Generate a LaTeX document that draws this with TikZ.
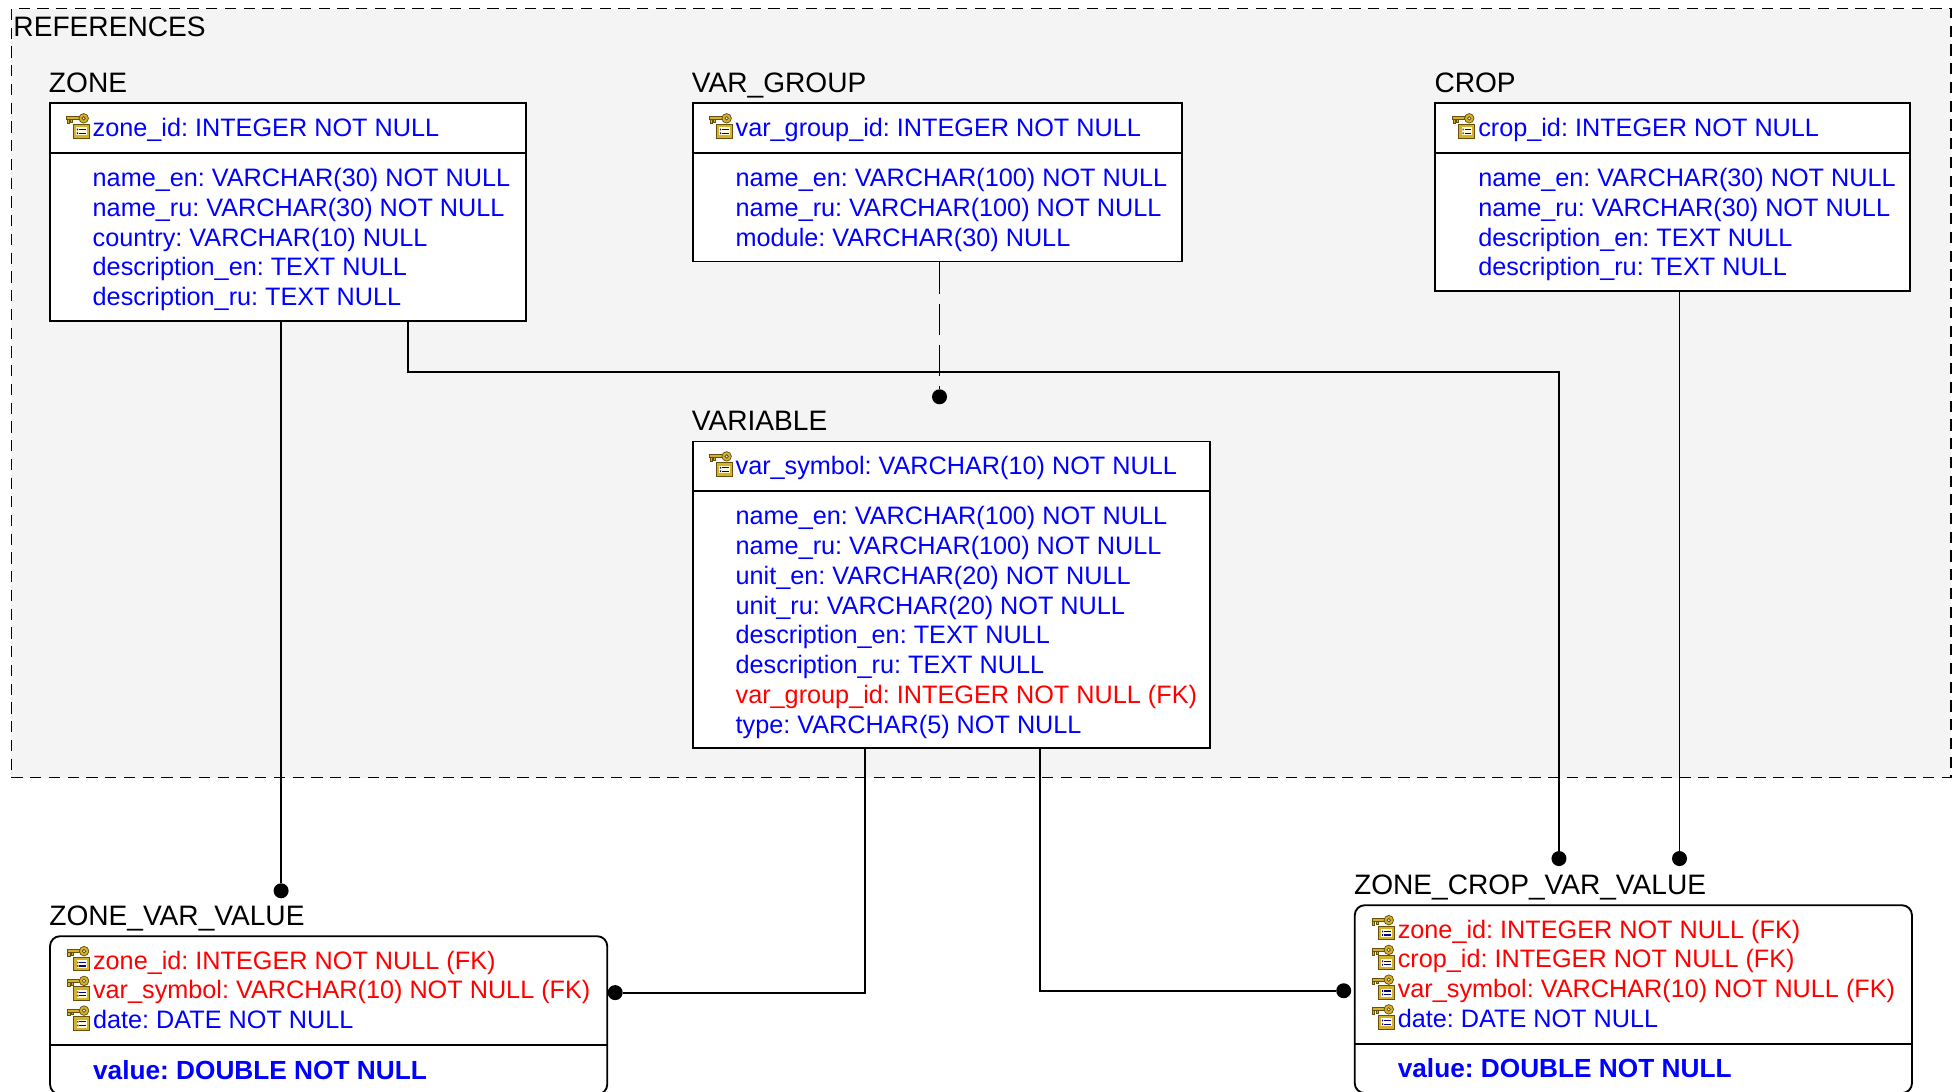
\documentclass[tikz,border=0pt]{standalone}
\usepackage{fontspec}
\setmainfont{Liberation Sans}
\frenchspacing

\definecolor{attrblue}{RGB}{0,0,255}
\definecolor{fkred}{RGB}{255,0,0}
\definecolor{areagray}{RGB}{244,244,244}
\definecolor{keygold}{RGB}{214,178,44}
\definecolor{keyedge}{RGB}{100,80,12}

\newcommand\fk[1]{\textcolor{fkred}{#1}}

% key + table icon of a primary key row
\tikzset{pkey/.pic={
  \draw[keyedge, fill=keygold, line width=0.7pt] (5.5,9) rectangle (18.5,20);
  \fill[white!88!yellow] (8,11.5) rectangle (16.5,17.8);
  \draw[blue!55!black, line width=1pt] (10.2,13.2) -- (15.5,13.2) (10.2,16.1) -- (15.5,16.1);
  \fill[blue!55!black] (8.6,12.5) rectangle (9.5,13.9) (8.6,15.4) rectangle (9.5,16.8);
  \draw[keyedge, fill=keygold, line width=0.6pt] (0.5,2.9) rectangle (10.8,5.3);
  \draw[keyedge, fill=keygold, line width=0.6pt] (1,5.3) rectangle (2.7,8.2) (3.7,5.3) rectangle (5.3,7.4);
  \draw[keyedge, fill=keygold, line width=0.6pt, even odd rule] (14,4.2) circle (3.8) (14,4.2) circle (1.4);
}}

\newcommand\pkattrs[2]{%
  \foreach \f [count=\k from 0] in {#2} {
    \pic at ([xshift=14pt, yshift={(18.5-27-23.8*\k)*1pt}]#1.north west) {pkey};
    \node[attr] at ([xshift=35pt, yshift={-(27+23.8*\k)*1pt}]#1.north west) {\f};
  }}
\newcommand\attrs[3]{%
  \foreach \f [count=\k from 0] in {#3}
    \node[attr] at ([xshift=35pt, yshift={-(#2+23.8*\k)*1pt}]#1.north west) {\f};}
\newcommand\valattr[1]{{\fontsize{21}{24}\selectfont\bfseries #1}}

\begin{document}
\begin{tikzpicture}[x=1pt, y=-1pt]

\tikzstyle{area}=[draw, fill=areagray, line width=1.2pt, dash pattern=on 9pt off 6pt, anchor=north west, inner sep=0]
\tikzstyle{entity}=[draw, fill=white, line width=1.5pt, anchor=north west, inner sep=0]
\tikzstyle{attr}=[anchor=base west, inner sep=0, text=attrblue, font=\fontsize{20.2}{24}\selectfont]
\tikzstyle{entname}=[anchor=base west, inner sep=0, font=\fontsize{22.5}{26}\selectfont]
\tikzstyle{divider}=[line width=1.5pt]
\tikzstyle{rel}=[line width=1.5pt]
\tikzstyle{fkdot}=[circle, fill=black, inner sep=0, minimum size=12pt]

\useasboundingbox (0,0) rectangle (1568,874);

\node[area, minimum width=1552.2pt, minimum height=615.4pt] (refs) at (8.6,6.4) {};
\node[entname] at ([xshift=2pt, yshift=-23pt]refs.north west) {REFERENCES};

% end points of the relationships
\node[fkdot] (dvg) at (752,317.6) {};
\node[fkdot] (dzvz) at (225,713) {};
\node[fkdot] (dzvv) at (492.4,794.5) {};
\node[fkdot] (dzcz) at (1247.8,687.2) {};
\node[fkdot] (dzcc) at (1344.3,687.2) {};
\node[fkdot] (dzcv) at (1075.5,793) {};
\coordinate (zbend) at (326.4,298);
\coordinate (vbend1) at (692,794.5);
\coordinate (vbend2) at (832.5,793);

% tables
\node[entity, minimum width=381pt, minimum height=174pt] (zone) at (39,82) {};
\node[entity, minimum width=392pt, minimum height=126.6pt] (vargroup) at (553.6,82) {};
\node[entity, minimum width=380pt, minimum height=150.4pt] (crop) at (1148,82) {};
\node[entity, minimum width=414.4pt, minimum height=245.6pt] (variable) at (553.6,352.6) {};
\node[entity, rounded corners=8pt, minimum width=446pt, minimum height=126.6pt] (zvv) at (39.3,748.6) {};
\node[entity, rounded corners=8pt, minimum width=446pt, minimum height=150.4pt] (zcvv) at (1083.6,723.8) {};

\draw[rel] (zone.south -| dzvz) -- (dzvz);
\draw[rel] (zone.south -| zbend) -- (zbend) -| (dzcz);
\draw[rel, dash pattern=on 25pt off 8pt] (vargroup.south -| dvg) -- (dvg);
\draw[rel] (crop.south -| dzcc) -- (dzcc);
\draw[rel] (variable.south -| vbend1) -- (vbend1) -- (dzvv);
\draw[rel] (variable.south -| vbend2) -- (vbend2) -- (dzcv);

\foreach \t in {zone, vargroup, crop, variable}
  \draw[divider] ([yshift=-40.5pt]\t.north west) -- ([yshift=-40.5pt]\t.north east);
\draw[divider] ([yshift=-88.1pt]zvv.north west) -- ([yshift=-88.1pt]zvv.north east);
\draw[divider] ([yshift=-111.9pt]zcvv.north west) -- ([yshift=-111.9pt]zcvv.north east);

\node[entname] at ([yshift=8pt]zone.north west) {ZONE};
\node[entname] at ([yshift=8pt]vargroup.north west) {VAR\_GROUP};
\node[entname] at ([yshift=8pt]crop.north west) {CROP};
\node[entname] at ([yshift=8pt]variable.north west) {VARIABLE};
\node[entname] at ([yshift=8pt]zvv.north west) {ZONE\_VAR\_VALUE};
\node[entname] at ([yshift=8pt]zcvv.north west) {ZONE\_CROP\_VAR\_VALUE};

\pkattrs{zone}{zone\_id: INTEGER NOT NULL}
\attrs{zone}{67.5}{name\_en: VARCHAR(30) NOT NULL, name\_ru: VARCHAR(30) NOT NULL,
  country: VARCHAR(10) NULL, description\_en: TEXT NULL, description\_ru: TEXT NULL}

\pkattrs{vargroup}{var\_group\_id: INTEGER NOT NULL}
\attrs{vargroup}{67.5}{name\_en: VARCHAR(100) NOT NULL, name\_ru: VARCHAR(100) NOT NULL,
  module: VARCHAR(30) NULL}

\pkattrs{crop}{crop\_id: INTEGER NOT NULL}
\attrs{crop}{67.5}{name\_en: VARCHAR(30) NOT NULL, name\_ru: VARCHAR(30) NOT NULL,
  description\_en: TEXT NULL, description\_ru: TEXT NULL}

\pkattrs{variable}{var\_symbol: VARCHAR(10) NOT NULL}
\attrs{variable}{67.5}{name\_en: VARCHAR(100) NOT NULL, name\_ru: VARCHAR(100) NOT NULL,
  unit\_en: VARCHAR(20) NOT NULL, unit\_ru: VARCHAR(20) NOT NULL,
  description\_en: TEXT NULL, description\_ru: TEXT NULL,
  \fk{var\_group\_id: INTEGER NOT NULL (FK)}, type: VARCHAR(5) NOT NULL}

\pkattrs{zvv}{\fk{zone\_id: INTEGER NOT NULL (FK)}, \fk{var\_symbol: VARCHAR(10) NOT NULL (FK)},
  date: DATE NOT NULL}
\attrs{zvv}{115.1}{\valattr{value: DOUBLE NOT NULL}}

\pkattrs{zcvv}{\fk{zone\_id: INTEGER NOT NULL (FK)}, \fk{crop\_id: INTEGER NOT NULL (FK)},
  \fk{var\_symbol: VARCHAR(10) NOT NULL (FK)}, date: DATE NOT NULL}
\attrs{zcvv}{138.4}{\valattr{value: DOUBLE NOT NULL}}

\end{tikzpicture}
\end{document}
